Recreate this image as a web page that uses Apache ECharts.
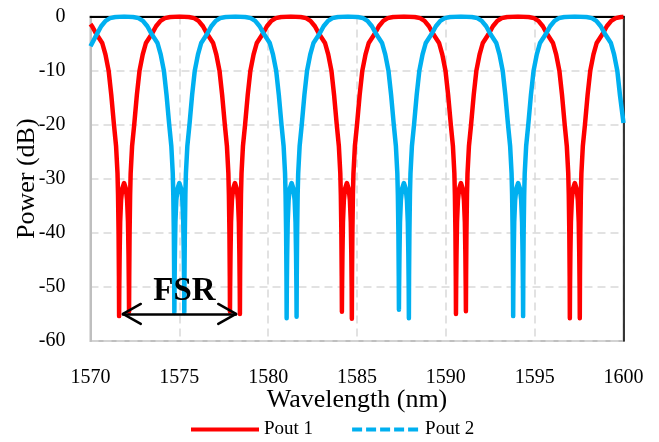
<!DOCTYPE html>
<html>
<head>
<meta charset="utf-8">
<title>Pout 1 / Pout 2</title>
<script src="https://cdn.jsdelivr.net/npm/echarts@6/dist/echarts.min.js"></script>
<style>
  html, body { margin: 0; padding: 0; background: #fff; }
  #chart { width: 659px; height: 442px; }
</style>
</head>
<body>
<div id="chart"></div>
<script>
// values (nm, dB)
var pout1Wavelength = [
    1570.00, 1570.09,
    1570.34, 1570.66, 1570.84, 1571.02, 1571.17, 1571.32, 1571.44, 1571.52, 1571.55, 1571.58, 1571.60, 1571.61, 1571.62, 1571.64, 1571.67, 1571.72, 1571.79, 1571.89, 1571.99, 1572.06, 1572.11, 1572.14, 1572.16, 1572.17, 1572.18, 1572.20, 1572.23, 1572.26, 1572.34, 1572.46, 1572.61, 1572.76, 1572.94, 1573.12, 1573.44, 1573.69, 1573.94, 1574.19, 1574.49, 1575.01,
    1575.53, 1575.83, 1576.08, 1576.33, 1576.58, 1576.90, 1577.08, 1577.26, 1577.41, 1577.56, 1577.68, 1577.76, 1577.79, 1577.82, 1577.84, 1577.85, 1577.86, 1577.88, 1577.91, 1577.96, 1578.03, 1578.13, 1578.23, 1578.30, 1578.35, 1578.38, 1578.40, 1578.41, 1578.42, 1578.44, 1578.47, 1578.50, 1578.58, 1578.70, 1578.85, 1579.00, 1579.18, 1579.36, 1579.68, 1579.93, 1580.18, 1580.43, 1580.73, 1581.28,
    1581.83, 1582.13, 1582.38, 1582.63, 1582.88, 1583.20, 1583.38, 1583.56, 1583.71, 1583.86, 1583.98, 1584.06, 1584.09, 1584.12, 1584.14, 1584.15, 1584.16, 1584.18, 1584.21, 1584.26, 1584.33, 1584.43, 1584.53, 1584.60, 1584.65, 1584.68, 1584.70, 1584.71, 1584.72, 1584.74, 1584.77, 1584.80, 1584.88, 1585.00, 1585.15, 1585.30, 1585.48, 1585.66, 1585.98, 1586.23, 1586.48, 1586.73, 1587.03, 1587.64,
    1588.25, 1588.55, 1588.80, 1589.05, 1589.30, 1589.62, 1589.80, 1589.98, 1590.13, 1590.28, 1590.40, 1590.48, 1590.51, 1590.54, 1590.56, 1590.57, 1590.58, 1590.60, 1590.63, 1590.68, 1590.75, 1590.85, 1590.95, 1591.02, 1591.07, 1591.10, 1591.12, 1591.13, 1591.14, 1591.16, 1591.19, 1591.22, 1591.30, 1591.42, 1591.57, 1591.72, 1591.90, 1592.08, 1592.40, 1592.65, 1592.90, 1593.15, 1593.45, 1594.06,
    1594.66, 1594.96, 1595.21, 1595.46, 1595.71, 1596.03, 1596.21, 1596.39, 1596.54, 1596.69, 1596.81, 1596.89, 1596.92, 1596.95, 1596.97, 1596.98, 1596.99, 1597.01, 1597.04, 1597.09, 1597.16, 1597.26, 1597.36, 1597.43, 1597.48, 1597.51, 1597.53, 1597.54, 1597.55, 1597.57, 1597.60, 1597.63, 1597.71, 1597.83, 1597.98, 1598.13, 1598.31, 1598.49, 1598.81, 1599.06, 1599.31, 1599.56, 1599.86, 1600.00
];
var pout1Power = [
    -1.4, -1.8,
    -3.3, -4.9, -7, -10, -14.5, -20, -24, -29, -33, -40, -48, -55.4, -50, -44, -38, -34, -31.8, -30.8, -31.8, -34, -38, -44, -50, -54.6, -48, -40, -33, -29, -24, -20, -14.5, -10, -7, -4.9, -3.3, -1.8, -0.8, -0.3, -0.1, 0,
    -0.1, -0.3, -0.8, -1.8, -3.3, -4.9, -7, -10, -14.5, -20, -24, -29, -33, -40, -48, -54.6, -50, -44, -38, -34, -31.8, -30.8, -31.8, -34, -38, -44, -50, -55.0, -48, -40, -33, -29, -24, -20, -14.5, -10, -7, -4.9, -3.3, -1.8, -0.8, -0.3, -0.1, 0,
    -0.1, -0.3, -0.8, -1.8, -3.3, -4.9, -7, -10, -14.5, -20, -24, -29, -33, -40, -48, -54.6, -50, -44, -38, -34, -31.8, -30.8, -31.8, -34, -38, -44, -50, -55.9, -48, -40, -33, -29, -24, -20, -14.5, -10, -7, -4.9, -3.3, -1.8, -0.8, -0.3, -0.1, 0,
    -0.1, -0.3, -0.8, -1.8, -3.3, -4.9, -7, -10, -14.5, -20, -24, -29, -33, -40, -48, -55.0, -50, -44, -38, -34, -31.8, -30.8, -31.8, -34, -38, -44, -50, -54.5, -48, -40, -33, -29, -24, -20, -14.5, -10, -7, -4.9, -3.3, -1.8, -0.8, -0.3, -0.1, 0,
    -0.1, -0.3, -0.8, -1.8, -3.3, -4.9, -7, -10, -14.5, -20, -24, -29, -33, -40, -48, -55.8, -50, -44, -38, -34, -31.8, -30.8, -31.8, -34, -38, -44, -50, -55.8, -48, -40, -33, -29, -24, -20, -14.5, -10, -7, -4.9, -3.3, -1.8, -0.8, -0.3, -0.1, -0.05
];

var pout2Wavelength = [
    1570.00, 1570.35, 1570.60, 1570.85, 1571.10, 1571.40, 1571.90,
    1572.40, 1572.70, 1572.95, 1573.20, 1573.45, 1573.77, 1573.95, 1574.13, 1574.28, 1574.43, 1574.55, 1574.63, 1574.66, 1574.69, 1574.71, 1574.72, 1574.73, 1574.75, 1574.78, 1574.83, 1574.90, 1575.00, 1575.10, 1575.17, 1575.22, 1575.25, 1575.27, 1575.28, 1575.29, 1575.31, 1575.34, 1575.37, 1575.45, 1575.57, 1575.72, 1575.87, 1576.05, 1576.23, 1576.55, 1576.80, 1577.05, 1577.30, 1577.60, 1578.16,
    1578.72, 1579.02, 1579.27, 1579.52, 1579.77, 1580.09, 1580.27, 1580.45, 1580.60, 1580.75, 1580.87, 1580.95, 1580.98, 1581.01, 1581.03, 1581.04, 1581.05, 1581.07, 1581.10, 1581.15, 1581.22, 1581.32, 1581.42, 1581.49, 1581.54, 1581.57, 1581.59, 1581.60, 1581.61, 1581.63, 1581.66, 1581.69, 1581.77, 1581.89, 1582.04, 1582.19, 1582.37, 1582.55, 1582.87, 1583.12, 1583.37, 1583.62, 1583.92, 1584.48,
    1585.04, 1585.34, 1585.59, 1585.84, 1586.09, 1586.41, 1586.59, 1586.77, 1586.92, 1587.07, 1587.19, 1587.27, 1587.30, 1587.33, 1587.35, 1587.36, 1587.37, 1587.39, 1587.42, 1587.47, 1587.54, 1587.64, 1587.74, 1587.81, 1587.86, 1587.89, 1587.91, 1587.92, 1587.93, 1587.95, 1587.98, 1588.01, 1588.09, 1588.21, 1588.36, 1588.51, 1588.69, 1588.87, 1589.19, 1589.44, 1589.69, 1589.94, 1590.24, 1590.85,
    1591.47, 1591.77, 1592.02, 1592.27, 1592.52, 1592.84, 1593.02, 1593.20, 1593.35, 1593.50, 1593.62, 1593.70, 1593.73, 1593.76, 1593.78, 1593.79, 1593.80, 1593.82, 1593.85, 1593.90, 1593.97, 1594.07, 1594.17, 1594.24, 1594.29, 1594.32, 1594.34, 1594.35, 1594.36, 1594.38, 1594.41, 1594.44, 1594.52, 1594.64, 1594.79, 1594.94, 1595.12, 1595.30, 1595.62, 1595.87, 1596.12, 1596.37, 1596.67, 1597.26,
    1597.92, 1598.22, 1598.47, 1598.72, 1598.97, 1599.29, 1599.47, 1599.65, 1599.80, 1600.00
];
var pout2Power = [
    -5.5, -3.3, -1.8, -0.8, -0.3, -0.1, 0,
    -0.1, -0.3, -0.8, -1.8, -3.3, -4.9, -7, -10, -14.5, -20, -24, -29, -33, -40, -48, -54.8, -50, -44, -38, -34, -31.8, -30.8, -31.8, -34, -38, -44, -50, -54.8, -48, -40, -33, -29, -24, -20, -14.5, -10, -7, -4.9, -3.3, -1.8, -0.8, -0.3, -0.1, 0,
    -0.1, -0.3, -0.8, -1.8, -3.3, -4.9, -7, -10, -14.5, -20, -24, -29, -33, -40, -48, -55.8, -50, -44, -38, -34, -31.8, -30.8, -31.8, -34, -38, -44, -50, -55.5, -48, -40, -33, -29, -24, -20, -14.5, -10, -7, -4.9, -3.3, -1.8, -0.8, -0.3, -0.1, 0,
    -0.1, -0.3, -0.8, -1.8, -3.3, -4.9, -7, -10, -14.5, -20, -24, -29, -33, -40, -48, -54.2, -50, -44, -38, -34, -31.8, -30.8, -31.8, -34, -38, -44, -50, -55.8, -48, -40, -33, -29, -24, -20, -14.5, -10, -7, -4.9, -3.3, -1.8, -0.8, -0.3, -0.1, 0,
    -0.1, -0.3, -0.8, -1.8, -3.3, -4.9, -7, -10, -14.5, -20, -24, -29, -33, -40, -48, -55.4, -50, -44, -38, -34, -31.8, -30.8, -31.8, -34, -38, -44, -50, -55.4, -48, -40, -33, -29, -24, -20, -14.5, -10, -7, -4.9, -3.3, -1.8, -0.8, -0.3, -0.1, 0,
    -0.1, -0.3, -0.8, -1.8, -3.3, -4.9, -7, -10, -14.5, -19.7
];

var seriesNames = ['Pout 1', 'Pout 2'];
var wavelengthRange = [1570, 1600];
var powerRange = [-60, 0];

// FSR double arrow: tips, level, and head size (nm back, dB up/down)
var fsrTips = [1571.83, 1578.19];
var fsrLevel = -55;
var headBack = 1.0;
var headHalf = 1.85;

var serif = '"Liberation Serif", "Times New Roman", serif';

function pairs(xs, ys) {
    return xs.map(function (x, i) { return [x, ys[i]]; });
}

function seg(a, b, extra) {
    var s = [{ coord: a }, { coord: b }];
    if (extra) { s[0] = Object.assign(s[0], extra); }
    return s;
}

var noLabel = { label: { show: false } };
var fsrLines = [
    seg([fsrTips[0], fsrLevel], [fsrTips[1], fsrLevel]),
    seg([fsrTips[0], fsrLevel], [fsrTips[0] + headBack, fsrLevel + headHalf], noLabel),
    seg([fsrTips[0], fsrLevel], [fsrTips[0] + headBack, fsrLevel - headHalf], noLabel),
    seg([fsrTips[1], fsrLevel], [fsrTips[1] - headBack, fsrLevel + headHalf], noLabel),
    seg([fsrTips[1], fsrLevel], [fsrTips[1] - headBack, fsrLevel - headHalf], noLabel)
];

var chart = echarts.init(document.getElementById('chart'));

var gridLine = { lineStyle: { color: '#d9d9d9', width: 1.5, type: [8, 5] } };

var option = {
    animation: false,
    grid: {
        left: 90.5, right: 35.5, top: 16.5, bottom: 101,
        show: true, borderColor: '#bfbfbf', borderWidth: 2
    },
    legend: {
        left: 184, top: 415,
        itemWidth: 68, itemHeight: 14, itemGap: 37,
        itemStyle: { opacity: 0 },
        textStyle: { fontFamily: serif, fontSize: 19, color: '#000' },
        data: [
            { name: seriesNames[0], lineStyle: { width: 4 } },
            { name: seriesNames[1], lineStyle: { width: 4, type: [10, 4] } }
        ]
    },
    xAxis: {
        type: 'value',
        min: wavelengthRange[0], max: wavelengthRange[1], interval: 5,
        name: 'Wavelength (nm)', nameLocation: 'middle', nameGap: 46,
        nameMoveOverlap: false,
        nameTextStyle: { fontFamily: serif, fontSize: 26, color: '#000' },
        axisLine: { lineStyle: { color: '#000', width: 2 } },
        axisTick: { show: false },
        axisLabel: {
            fontFamily: serif, fontSize: 20, color: '#000', margin: 27,
            formatter: function (v) { return String(v); }
        },
        splitLine: gridLine
    },
    yAxis: [{
        type: 'value',
        min: powerRange[0], max: powerRange[1], interval: 10,
        name: 'Power (dB)', nameLocation: 'middle', nameGap: 50,
        nameMoveOverlap: false,
        nameTextStyle: { fontFamily: serif, fontSize: 26, color: '#000' },
        axisLine: { show: true, lineStyle: { color: '#bfbfbf', width: 2 } },
        axisTick: { show: false },
        axisLabel: { fontFamily: serif, fontSize: 20, color: '#000', margin: 25 },
        splitLine: gridLine
    }, {
        type: 'value', position: 'right',
        min: powerRange[0], max: powerRange[1],
        axisLine: { show: true, lineStyle: { color: '#000', width: 1.5 } },
        axisTick: { show: false },
        axisLabel: { show: false },
        splitLine: { show: false }
    }],
    series: [{
        name: seriesNames[0],
        type: 'line',
        symbol: 'none',
        data: pairs(pout1Wavelength, pout1Power),
        itemStyle: { color: '#ff0000' },
        lineStyle: { color: '#ff0000', width: 4.5, join: 'round' },
        markLine: {
            silent: true,
            symbol: 'none',
            lineStyle: { color: '#000', width: 2.5, type: 'solid', cap: 'round' },
            label: {
                show: true, position: 'middle', formatter: 'FSR',
                fontFamily: serif, fontSize: 33, fontWeight: 'bold', color: '#000',
                distance: 6, padding: [0, 0, 0, 10]
            },
            data: fsrLines
        }
    }, {
        name: seriesNames[1],
        type: 'line',
        symbol: 'none',
        data: pairs(pout2Wavelength, pout2Power),
        itemStyle: { color: '#00b0f0' },
        lineStyle: { color: '#00b0f0', width: 4.5, join: 'round' }
    }]
};

chart.setOption(option);
</script>
</body>
</html>
